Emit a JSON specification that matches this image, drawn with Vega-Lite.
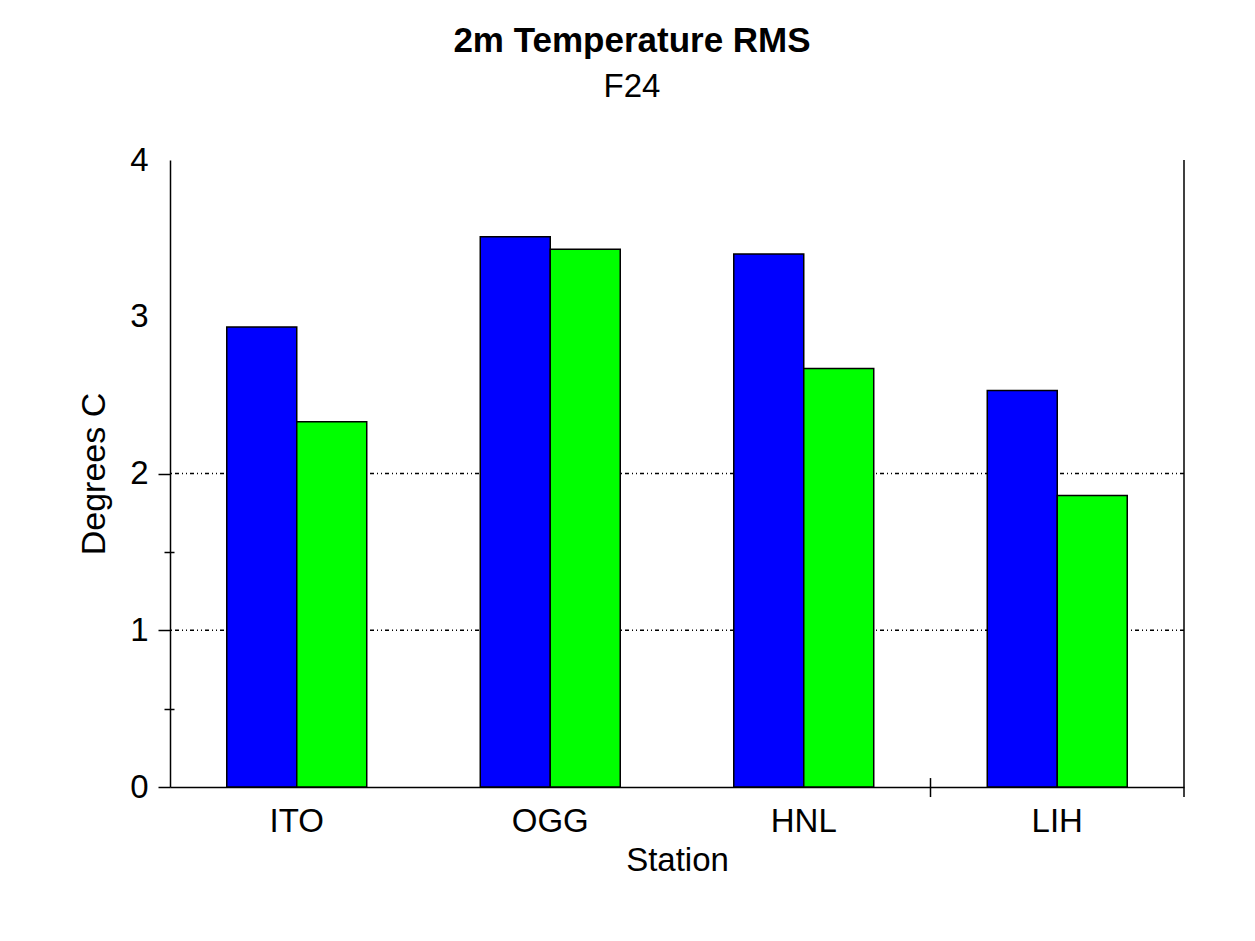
{
  "$schema": "https://vega.github.io/schema/vega-lite/v6.json",
  "width": 1014,
  "height": 627,
  "autosize": {"type": "none"},
  "padding": {"left": 170, "top": 160, "right": 71, "bottom": 154},
  "background": "white",
  "config": {
    "view": {"stroke": null},
    "font": "Liberation Sans",
    "axis": {
      "domainColor": "black",
      "tickColor": "black",
      "labelColor": "black",
      "titleColor": "black",
      "domainWidth": 1.5,
      "tickWidth": 1.5,
      "grid": false,
      "labelFont": "Liberation Sans",
      "titleFont": "Liberation Sans"
    }
  },
  "title": {
    "text": "2m Temperature RMS",
    "subtitle": "F24",
    "font": "Liberation Sans",
    "subtitleFont": "Liberation Sans",
    "fontSize": 35,
    "fontWeight": "bold",
    "subtitleFontSize": 33,
    "color": "black",
    "subtitleColor": "black",
    "anchor": "middle",
    "offset": 40,
    "dx": -45,
    "subtitlePadding": 12
  },
  "datasets": {
    "bars": [
      {"station": "ITO", "series": "S1", "value": 2.935},
      {"station": "ITO", "series": "S2", "value": 2.33},
      {"station": "OGG", "series": "S1", "value": 3.51},
      {"station": "OGG", "series": "S2", "value": 3.43},
      {"station": "HNL", "series": "S1", "value": 3.4},
      {"station": "HNL", "series": "S2", "value": 2.67},
      {"station": "LIH", "series": "S1", "value": 2.53},
      {"station": "LIH", "series": "S2", "value": 1.86}
    ],
    "grid": [{"v": 1}, {"v": 2}],
    "minor": [{"m": 0.5}, {"m": 1.5}],
    "one": [{}]
  },
  "layer": [
    {
      "data": {"name": "grid"},
      "mark": {"type": "rule", "strokeDash": [4, 3, 1, 3, 1, 3], "strokeWidth": 1.5, "color": "black"},
      "encoding": {
        "y": {
          "field": "v",
          "type": "quantitative",
          "scale": {"domain": [0, 4]},
          "axis": {
            "orient": "left",
            "values": [0, 1, 2],
            "tickSize": 12,
            "labels": false,
            "title": null,
            "domain": true
          }
        }
      }
    },
    {
      "data": {"name": "minor"},
      "mark": {"type": "rule", "opacity": 0},
      "encoding": {
        "y": {
          "field": "m",
          "type": "quantitative",
          "axis": {
            "orient": "left",
            "values": [0.5, 1.5],
            "tickSize": 10,
            "offset": -4,
            "labels": false,
            "title": null,
            "domain": false
          }
        }
      }
    },
    {
      "data": {"name": "bars"},
      "mark": {"type": "bar", "stroke": "black", "strokeWidth": 1.5},
      "encoding": {
        "x": {
          "field": "station",
          "type": "nominal",
          "sort": null,
          "scale": {"domain": ["ITO", "OGG", "HNL", "LIH"], "paddingInner": 0, "paddingOuter": 0},
          "axis": {
            "orient": "bottom",
            "labelAngle": 0,
            "labelFontSize": 33,
            "tickSize": 10,
            "tickOpacity": 0,
            "labelPadding": 8,
            "title": "Station",
            "titleFontSize": 33,
            "titleFontWeight": "normal",
            "titlePadding": 6
          }
        },
        "xOffset": {"field": "series", "scale": {"paddingInner": 0, "paddingOuter": 0.811}},
        "y": {
          "field": "value",
          "type": "quantitative",
          "scale": {"domain": [0, 4]},
          "axis": {
            "orient": "left",
            "values": [0, 1, 2, 3, 4],
            "ticks": false,
            "labelPadding": 22,
            "labelFontSize": 33,
            "title": "Degrees C",
            "titleFontSize": 34,
            "titleFontWeight": "normal",
            "titlePadding": 18,
            "domain": false
          }
        },
        "color": {"field": "series", "type": "nominal", "scale": {"range": ["#0000ff", "#00ff00"]}, "legend": null}
      }
    },
    {
      "data": {"name": "one"},
      "mark": {"type": "rule", "color": "black", "strokeWidth": 1.5},
      "encoding": {
        "x": {"datum": "LIH", "type": "nominal", "bandPosition": 1, "axis": null},
        "y": {"datum": -0.064, "type": "quantitative", "axis": null},
        "y2": {"datum": 4}
      }
    },
    {
      "data": {"name": "one"},
      "mark": {"type": "rule", "color": "black", "strokeWidth": 1.5},
      "encoding": {
        "x": {"datum": "LIH", "type": "nominal", "bandPosition": 0, "axis": null},
        "y": {"datum": -0.064, "type": "quantitative", "axis": null},
        "y2": {"datum": 0.057}
      }
    }
  ],
  "resolve": {"axis": {"x": "independent", "y": "independent"}}
}
